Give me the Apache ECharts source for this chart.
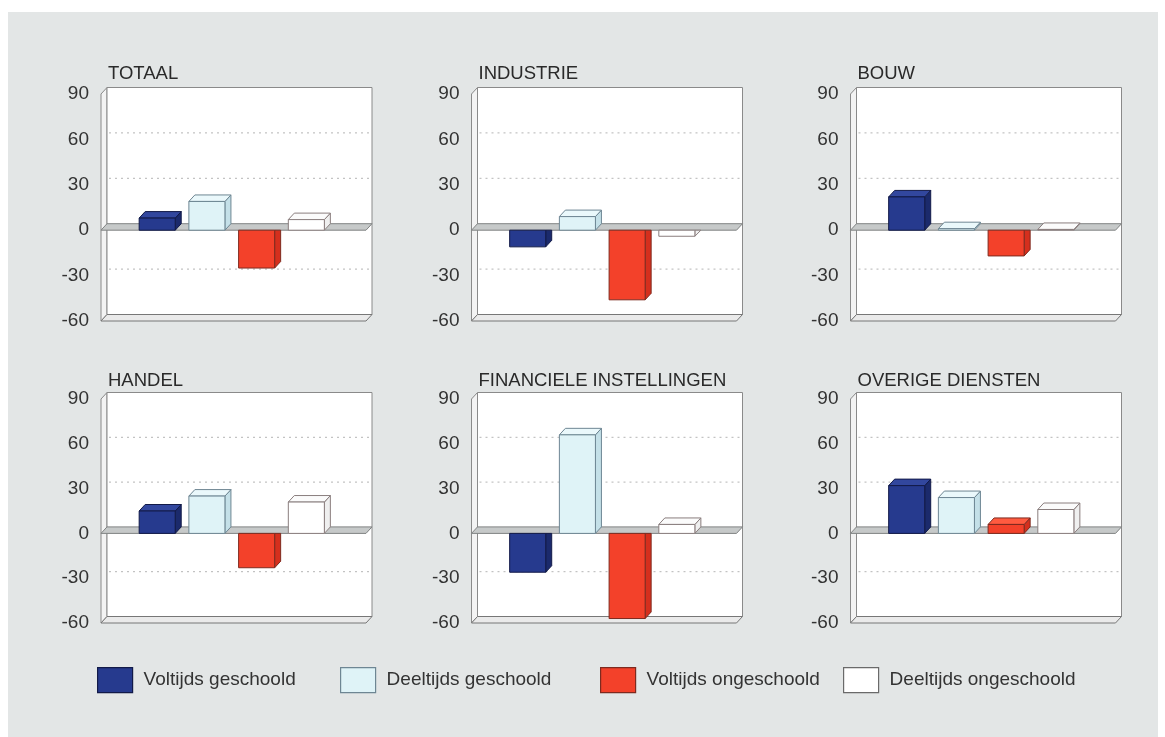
<!DOCTYPE html>
<html>
<head>
<meta charset="utf-8">
<script src="https://cdn.jsdelivr.net/npm/echarts@6/dist/echarts.min.js"></script>
<style>
  html, body { margin: 0; padding: 0; background: #ffffff; }
  #chart { width: 1165px; height: 737px; }
</style>
</head>
<body>
<div id="chart"></div>
<script>
// Sectors (one panel each) and the four employee groups
const sectors = ['TOTAAL', 'INDUSTRIE', 'BOUW', 'HANDEL', 'FINANCIELE INSTELLINGEN', 'OVERIGE DIENSTEN'];
const groups = ['Voltijds geschoold', 'Deeltijds geschoold', 'Voltijds ongeschoold', 'Deeltijds ongeschoold'];

// Change per group, in sector order
const voltijdsGeschoold    = [8, -11, 22, 15, -26, 32];
const deeltijdsGeschoold   = [19, 9, 1, 25, 66, 24];
const voltijdsOngeschoold  = [-25, -46, -17, -23, -57, 6];
const deeltijdsOngeschoold = [7, -4, 0.5, 21, 6, 16];

// Value axis
const yMin = -60, yMax = 90, yStep = 30;

const groupValues = [voltijdsGeschoold, deeltijdsGeschoold, voltijdsOngeschoold, deeltijdsOngeschoold];

// Face colours for the 3D boxes: front, top, side, edge
const palette = [
  { front: '#263a8e', top: '#32479e', side: '#1b2a6c', edge: '#121a48' },
  { front: '#dff3f7', top: '#eaf8fb', side: '#c4e0e8', edge: '#6e8693' },
  { front: '#f3412a', top: '#ff5b40', side: '#d52f1d', edge: '#7e2a1f' },
  { front: '#ffffff', top: '#fbfbfb', side: '#efefef', edge: '#8a7e7e' }
];

// Perspective offset of the depth direction, in pixels
const DX = 6, DY = -6.5;
const BAR_W = 0.725;

// Panel placement (front plane of each plot box)
const colLeft = [101, 471.5, 850.5];
const rowTop = [94, 399];
const rowHeight = [227, 224];
const panelWidth = 265;
const titleTop = [64, 371];

const FONT = '"Liberation Sans", Arial, Helvetica, sans-serif';

const grids = [], xAxes = [], yAxes = [], titles = [], series = [];

function renderFrame(params, api) {
  const cs = params.coordSys;
  const x0 = cs.x, x1 = cs.x + cs.width;
  const yT = cs.y, yB = cs.y + cs.height;
  const y0 = api.coord([0, 0])[1];
  const children = [];
  // left side wall
  children.push({
    type: 'polygon',
    shape: { points: [[x0, yT], [x0 + DX, yT + DY], [x0 + DX, yB + DY], [x0, yB]] },
    style: { fill: '#f3f3f3', stroke: '#8a8a8a', lineWidth: 1 }
  });
  // back wall
  children.push({
    type: 'rect',
    shape: { x: x0 + DX, y: yT + DY, width: cs.width, height: cs.height },
    style: { fill: '#ffffff', stroke: '#8a8a8a', lineWidth: 1 }
  });
  // dotted grid lines on the back wall
  for (let v = yMin + yStep; v < yMax; v += yStep) {
    if (v === 0) continue;
    const y = api.coord([0, v])[1] + DY;
    children.push({
      type: 'line',
      shape: { x1: x0 + DX + 2, y1: y, x2: x1 + DX - 2, y2: y },
      style: { stroke: '#b4b4b4', lineWidth: 1, lineDash: [2, 4] }
    });
  }
  // floor at the bottom of the axis
  children.push({
    type: 'polygon',
    shape: { points: [[x0, yB], [x1, yB], [x1 + DX, yB + DY], [x0 + DX, yB + DY]] },
    style: { fill: '#eaeaea', stroke: '#777777', lineWidth: 1 }
  });
  // slab at zero
  children.push({
    type: 'polygon',
    shape: { points: [[x0, y0], [x1, y0], [x1 + DX, y0 + DY], [x0 + DX, y0 + DY]] },
    style: { fill: '#c6c9c9', stroke: '#808383', lineWidth: 1 }
  });
  return { type: 'group', children: children };
}

function makeBarRenderer(col) {
  return function (params, api) {
    const i = api.value(0), v = api.value(1);
    const p0 = api.coord([i, 0]);
    const p1 = api.coord([i, v]);
    const w = api.size([BAR_W, 0])[0];
    const xl = p0[0] - w / 2, xr = p0[0] + w / 2;
    const y0 = p0[1], yv = p1[1];
    const children = [];
    if (v >= 0) {
      children.push({
        type: 'polygon',
        shape: { points: [[xr, y0], [xr, yv], [xr + DX, yv + DY], [xr + DX, y0 + DY]] },
        style: { fill: col.side, stroke: col.edge, lineWidth: 1 }
      });
      children.push({
        type: 'polygon',
        shape: { points: [[xl, yv], [xr, yv], [xr + DX, yv + DY], [xl + DX, yv + DY]] },
        style: { fill: col.top, stroke: col.edge, lineWidth: 1 }
      });
      children.push({
        type: 'rect',
        shape: { x: xl, y: yv, width: w, height: y0 - yv },
        style: { fill: col.front, stroke: col.edge, lineWidth: 1 }
      });
    } else {
      const yb = Math.max(yv + DY, y0);
      children.push({
        type: 'polygon',
        shape: { points: [[xr, y0], [xr, yv], [xr + DX, yb], [xr + DX, y0]] },
        style: { fill: col.side, stroke: col.edge, lineWidth: 1 }
      });
      children.push({
        type: 'rect',
        shape: { x: xl, y: y0, width: w, height: yv - y0 },
        style: { fill: col.front, stroke: col.edge, lineWidth: 1 }
      });
    }
    return { type: 'group', children: children };
  };
}

sectors.forEach(function (name, k) {
  const r = Math.floor(k / 3), c = k % 3;
  grids.push({ left: colLeft[c], top: rowTop[r], width: panelWidth, height: rowHeight[r] });
  xAxes.push({ type: 'value', gridIndex: k, min: -1.13, max: 4.2, show: false });
  yAxes.push({
    type: 'value', gridIndex: k, min: yMin, max: yMax, interval: yStep,
    axisLine: { show: false }, axisTick: { show: false }, splitLine: { show: false },
    axisLabel: { fontSize: 19, color: '#333333', margin: 12, fontFamily: FONT }
  });
  titles.push({
    text: name, left: colLeft[c] + 7, top: titleTop[r], padding: 0,
    textStyle: { fontSize: 18.5, fontWeight: 'normal', color: '#2a2a2a', fontFamily: FONT }
  });
  series.push({
    type: 'custom', name: 'kader-' + k, xAxisIndex: k, yAxisIndex: k, z: 1, silent: true,
    renderItem: renderFrame, data: [[0, 0]], clip: false
  });
  groups.forEach(function (g, gi) {
    series.push({
      type: 'custom', name: g, xAxisIndex: k, yAxisIndex: k, z: 3,
      itemStyle: { color: palette[gi].front, borderColor: palette[gi].edge },
      renderItem: makeBarRenderer(palette[gi]),
      data: [[gi, groupValues[gi][k]]], clip: false
    });
  });
});

const legendLeft = [97, 340, 600, 843];
const legends = groups.map(function (g, gi) {
  return {
    left: legendLeft[gi], top: 667, itemWidth: 35, itemHeight: 25, padding: 0,
    icon: 'rect', selectedMode: false,
    data: [{ name: g, itemStyle: { color: palette[gi].front, borderColor: gi === 3 ? '#6a6a6a' : palette[gi].edge, borderWidth: 1.2 } }],
    textStyle: { fontSize: 19, color: '#333333', fontFamily: FONT, padding: [0, 0, 0, 6] }
  };
});

const chart = echarts.init(document.getElementById('chart'), null, { renderer: 'canvas' });
chart.setOption({
  backgroundColor: '#ffffff',
  animation: false,
  graphic: [{
    type: 'rect', silent: true, z: -10,
    shape: { x: 8, y: 12, width: 1150, height: 725 },
    style: { fill: '#e3e6e6' }
  }],
  title: titles,
  legend: legends,
  grid: grids,
  xAxis: xAxes,
  yAxis: yAxes,
  series: series
});
</script>
</body>
</html>
